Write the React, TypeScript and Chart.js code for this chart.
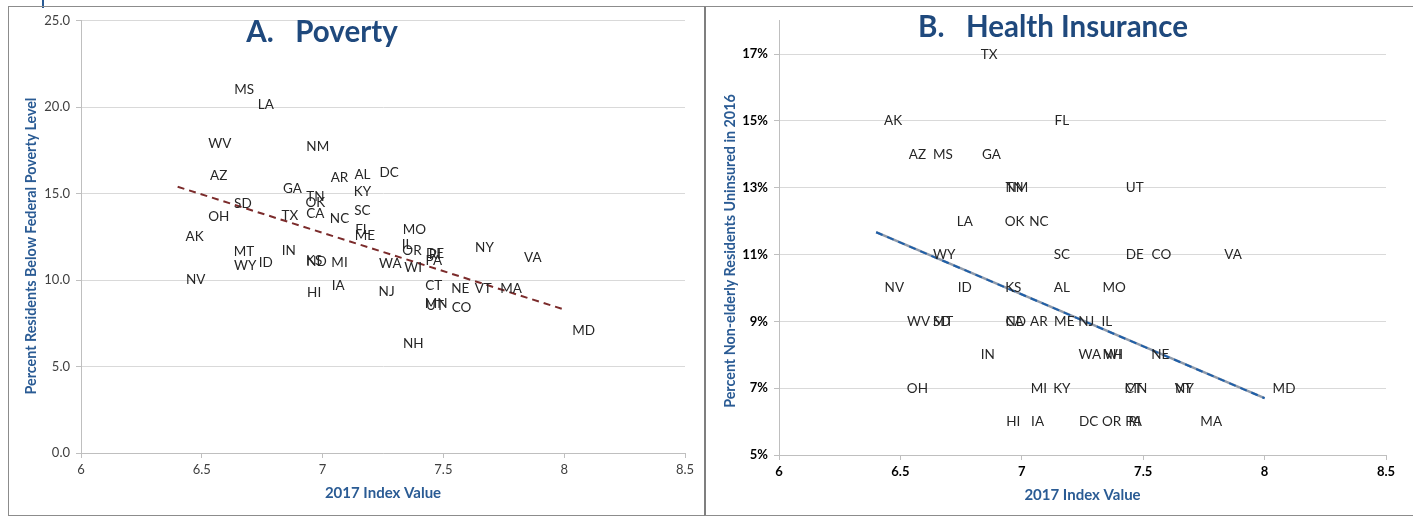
import React, { useEffect, useRef } from "react";
import { Chart, registerables } from "chart.js";

Chart.register(...registerables);

const STATES = ["AK","AL","AR","AZ","CA","CO","CT","DC","DE","FL","GA","HI","IA","ID","IL","IN","KS","KY","LA","MA","MD","ME","MI","MN","MO","MS","MT","NC","ND","NE","NH","NJ","NM","NV","NY","OH","OK","OR","PA","RI","SC","SD","TN","TX","UT","VA","VT","WA","WI","WV","WY"];

const INDEX_2017 = [6.47,7.165,7.07,6.57,6.97,7.575,7.46,7.275,7.465,7.165,6.875,6.965,7.065,6.765,7.35,6.86,6.965,7.165,6.765,7.78,8.08,7.175,7.07,7.47,7.38,6.675,6.675,7.07,6.975,7.57,7.375,7.265,6.98,6.475,7.67,6.57,6.97,7.37,7.46,7.465,7.165,6.67,6.97,6.865,7.465,7.87,7.665,7.28,7.375,6.575,6.68];

const POVERTY = [12.5,16.1,15.9,16.05,13.85,8.4,9.7,16.2,11.55,12.9,15.3,9.25,9.7,11.0,12.05,11.7,11.15,15.1,20.15,9.5,7.05,12.6,11.0,8.65,12.9,21.0,11.65,13.55,11.05,9.5,6.35,9.35,17.7,10.0,11.85,13.7,14.5,11.7,11.15,11.45,14.0,14.4,14.8,13.75,8.55,11.3,9.5,10.95,10.7,17.9,10.85];

const UNINSURED = [15,10,9,14,9,11,7,6,11,15,14,6,6,10,9,8,10,7,12,6,7,9,7,7,10,14,9,12,9,8,8,9,13,10,7,7,12,6,6,6,11,9,13,17,13,11,7,8,8,9,11];

const TREND_X = [6.4, 8.0];
const POVERTY_TREND = [15.4, 8.3];
const UNINSURED_TREND = [11.67, 6.7];

const INDEX_TICKS = [6, 6.5, 7, 7.5, 8, 8.5];
const POVERTY_TICKS = [0, 5, 10, 15, 20, 25];
const UNINSURED_TICKS = [5, 7, 9, 11, 13, 15, 17];

const FONT = "Lato";
const TITLE_BLUE = "#1F497D";
const AXIS_BLUE = "#2A5B94";

const labelPlugin = {
  id: "stateLabels",
  afterDatasetsDraw(chart: any) {
    const meta = chart.getDatasetMeta(0);
    const ctx = chart.ctx;
    ctx.save();
    ctx.font = `13.5px ${FONT}`;
    ctx.fillStyle = "#262626";
    ctx.textAlign = "center";
    ctx.textBaseline = "middle";
    meta.data.forEach((el: any, i: number) => {
      ctx.fillText(STATES[i], el.x, el.y);
    });
    ctx.restore();
  },
};

function ScatterPanel(props: {
  values: number[];
  trend: number[];
  trendColor: string;
  trendUnder?: string;
  yMin: number;
  yMax: number;
  yTicks: number[];
  yFormat: (v: number) => string;
  tickBold: boolean;
  tickColor: string;
  width: number;
  height: number;
  padTop: number;
  padRight: number;
  yAxisW: number;
  xAxisH: number;
  xTitlePad: number;
}) {
  const ref = useRef<HTMLCanvasElement>(null);
  useEffect(() => {
    const points = INDEX_2017.map((x, i) => ({ x, y: props.values[i] }));
    const trendPts = TREND_X.map((x, i) => ({ x, y: props.trend[i] }));
    const datasets: any[] = [
      {
        type: "scatter",
        data: points,
        pointRadius: 0,
        pointHoverRadius: 0,
        showLine: false,
      },
      {
        type: "line",
        data: trendPts,
        borderColor: props.trendColor,
        borderWidth: 2,
        borderDash: [7, 5],
        pointRadius: 0,
        fill: false,
      },
    ];
    if (props.trendUnder) {
      datasets.push({
        type: "line",
        data: trendPts,
        borderColor: props.trendUnder,
        borderWidth: 2.5,
        pointRadius: 0,
        fill: false,
      });
    }
    const tickFont = { family: FONT, size: 13, weight: props.tickBold ? "bold" : "normal" };
    const chart = new Chart(ref.current!, {
      type: "scatter",
      data: { datasets },
      plugins: [labelPlugin],
      options: {
        animation: false,
        responsive: false,
        maintainAspectRatio: false,
        events: [],
        layout: { padding: { top: props.padTop, right: props.padRight, left: 0, bottom: 0 } },
        plugins: { legend: { display: false }, tooltip: { enabled: false } },
        scales: {
          x: {
            type: "linear",
            min: 6,
            max: 8.5,
            afterFit: (s: any) => {
              s.height = props.xAxisH;
            },
            afterBuildTicks: (s: any) => {
              s.ticks = INDEX_TICKS.map((value) => ({ value }));
            },
            ticks: {
              callback: (v: any) => String(v),
              color: props.tickColor,
              font: tickFont as any,
              padding: 4,
              maxRotation: 0,
            },
            grid: {
              drawOnChartArea: false,
              drawTicks: true,
              tickLength: 5,
              tickColor: "#bfbfbf",
            },
            border: { color: "#bfbfbf" },
            title: {
              display: true,
              text: "2017 Index Value",
              color: AXIS_BLUE,
              font: { family: FONT, size: 15, weight: "bold" },
              padding: { top: 0, bottom: props.xTitlePad },
            },
          },
          y: {
            type: "linear",
            min: props.yMin,
            max: props.yMax,
            afterFit: (s: any) => {
              s.width = props.yAxisW;
            },
            afterBuildTicks: (s: any) => {
              s.ticks = props.yTicks.map((value) => ({ value }));
            },
            ticks: {
              callback: (v: any) => props.yFormat(Number(v)),
              color: props.tickColor,
              font: tickFont as any,
              padding: 6,
            },
            grid: {
              color: "#d9d9d9",
              tickLength: 5,
              tickColor: "#bfbfbf",
            },
            border: { color: "#bfbfbf" },
          },
        },
      },
    } as any);
    return () => chart.destroy();
  }, []);
  return (
    <canvas
      ref={ref}
      width={props.width}
      height={props.height}
      style={{ position: "absolute", left: 0, top: 0, width: props.width, height: props.height }}
    />
  );
}

function YTitle(props: { text: string; cx: number; cy: number }) {
  const w = 400;
  const h = 18;
  return (
    <div
      style={{
        position: "absolute",
        left: props.cx - w / 2,
        top: props.cy - h / 2,
        width: w,
        height: h,
        lineHeight: `${h}px`,
        textAlign: "center",
        transform: "rotate(-90deg)",
        transformOrigin: "50% 50%",
        fontFamily: FONT,
        fontWeight: 700,
        fontSize: 14.3,
        color: AXIS_BLUE,
        whiteSpace: "nowrap",
      }}
    >
      {props.text}
    </div>
  );
}

export default function App() {
  useEffect(() => {
    document.body.style.margin = "0";
  }, []);
  const titleStyle: React.CSSProperties = {
    position: "absolute",
    fontFamily: FONT,
    fontWeight: 700,
    fontSize: 29.5,
    color: TITLE_BLUE,
    whiteSpace: "pre",
    textAlign: "center",
    lineHeight: "32px",
    width: 400,
  };
  return (
    <div style={{ position: "relative", width: 1413, height: 517, background: "#fff", overflow: "hidden" }}>
      <div style={{ position: "absolute", left: 42, top: 0, width: 2, height: 8, background: "#2A5B94" }} />
      <div
        style={{
          position: "absolute",
          left: 8,
          top: 6,
          width: 697,
          height: 510,
          border: "1px solid #8c8c8c",
          boxSizing: "border-box",
        }}
      >
        <ScatterPanel
          values={POVERTY}
          trend={POVERTY_TREND}
          trendColor="#7B2B2B"
          yMin={0}
          yMax={25}
          yTicks={POVERTY_TICKS}
          yFormat={(v) => v.toFixed(1)}
          tickBold={false}
          tickColor="#404040"
          width={695}
          height={508}
          padTop={13}
          padRight={19}
          yAxisW={72}
          xAxisH={62}
          xTitlePad={13}
        />
      </div>
      <div
        style={{
          position: "absolute",
          left: 704,
          top: 6,
          width: 720,
          height: 510,
          borderLeft: "2px solid #7f7f7f",
          borderTop: "1px solid #8c8c8c",
          borderBottom: "1px solid #8c8c8c",
          boxSizing: "border-box",
        }}
      >
        <ScatterPanel
          values={UNINSURED}
          trend={UNINSURED_TREND}
          trendColor="#1F5FA8"
          trendUnder="#8e9aab"
          yMin={5}
          yMax={18}
          yTicks={UNINSURED_TICKS}
          yFormat={(v) => `${v}%`}
          tickBold={true}
          tickColor="#000000"
          width={707}
          height={508}
          padTop={13}
          padRight={27}
          yAxisW={73}
          xAxisH={60}
          xTitlePad={11}
        />
      </div>
      <YTitle text="Percent Residents Below Federal Poverty Level" cx={31} cy={246} />
      <YTitle text="Percent Non-elderly Residents Uninsured in 2016" cx={730} cy={251} />
      <div style={{ ...titleStyle, left: 122, top: 15 }}>{"A.   Poverty"}</div>
      <div style={{ ...titleStyle, left: 853, top: 10 }}>{"B.   Health Insurance"}</div>
    </div>
  );
}
